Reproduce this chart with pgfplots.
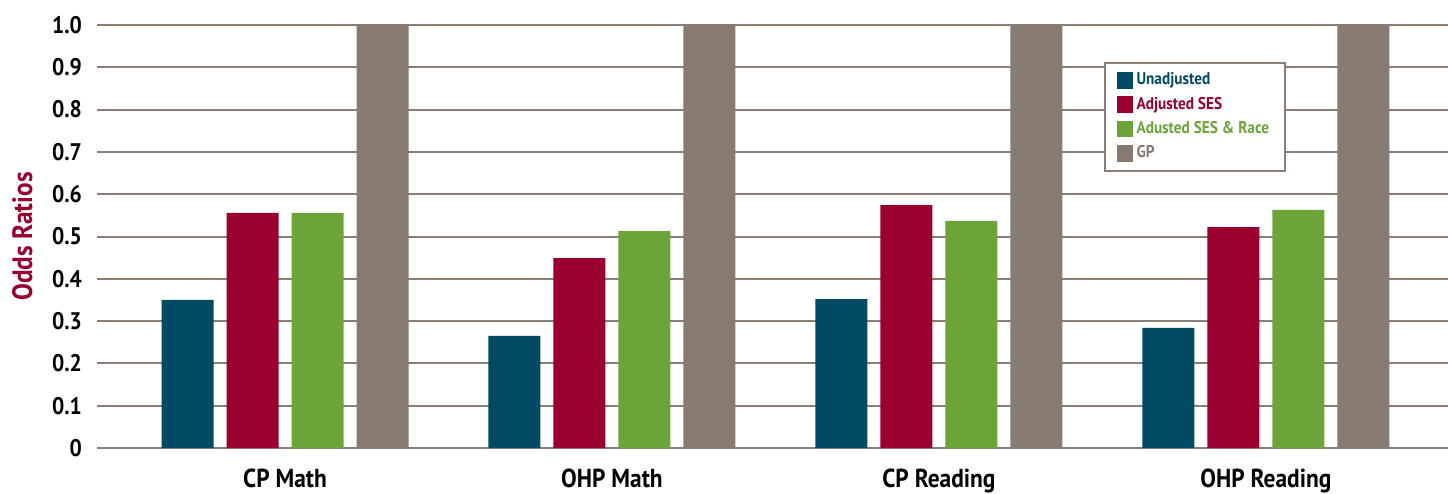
\documentclass[border=0pt]{standalone}
\usepackage{pgfplots}
\pgfplotsset{compat=1.18}
\usepackage{fontspec}
\setmainfont{PT Sans}[FakeStretch=0.9]

\definecolor{cunadj}{HTML}{004B63}
\definecolor{cses}{HTML}{990030}
\definecolor{crace}{HTML}{6CA43A}
\definecolor{cgp}{HTML}{877A70}
\definecolor{cgrid}{HTML}{8A7E76}

\begin{document}
\begin{tikzpicture}
  \begin{axis}[
      ybar,
      scale only axis,
      width=675.5pt,
      height=211.5pt,
      bar width=26pt,
      xmin=-0.575, xmax=3.557,
      ymin=0, ymax=1,
      enlargelimits=false,
      xtick={0,1,2,3},
      xticklabels={CP Math,\raisebox{-2.5pt}{OHP Math},CP Reading,\raisebox{-2.5pt}{OHP Reading}},
      ytick={0,0.1,...,1.0},
      yticklabels={0,0.1,0.2,0.3,0.4,0.5,0.6,0.7,0.8,0.9,1.0},
      major tick length=0pt,
      axis line style={draw=none},
      ymajorgrids,
      grid style={draw=cgrid, line width=1pt},
      yticklabel style={font=\fontsize{12}{13}\selectfont\bfseries, xshift=-4pt},
      xticklabel style={font=\fontsize{13}{14}\selectfont\bfseries, yshift=-7pt, anchor=north},
      ylabel={\textcolor{cses}{Odds Ratios}},
      ylabel style={font=\fontsize{14}{15}\selectfont\bfseries, yshift=3pt},
      legend style={
        at={(0.745,0.913)}, anchor=north west,
        draw=cgrid, line width=1pt, fill=white,
        font=\fontsize{8.5}{10}\selectfont\bfseries,
        inner xsep=6pt, inner ysep=3pt,
        row sep=0.6pt,
        cells={anchor=west},
      },
      legend image code/.code={\fill[#1, draw=none] (0pt,-4.2pt) rectangle (8pt,4.2pt);},
    ]

    % Unadjusted
    \addplot[fill=cunadj, draw=none, bar shift=-48.75pt] coordinates {
      (0,0.350) (1,0.265) (2,0.352) (3,0.284)
    };
    % Adjusted SES
    \addplot[fill=cses, draw=none, bar shift=-16.25pt] coordinates {
      (0,0.556) (1,0.449) (2,0.574) (3,0.522)
    };
    % Adusted SES & Race
    \addplot[fill=crace, draw=none, bar shift=16.25pt] coordinates {
      (0,0.556) (1,0.513) (2,0.537) (3,0.563)
    };
    % GP
    \addplot[fill=cgp, draw=none, bar shift=48.75pt] coordinates {
      (0,1.0) (1,1.0) (2,1.0) (3,1.0)
    };

    \legend{\textcolor{cunadj}{Unadjusted},
            \textcolor{cses}{Adjusted SES},
            \textcolor{crace}{Adusted SES \& Race},
            \textcolor{cgp}{GP}}

    \coordinate (bl) at (rel axis cs:0,0);
    \coordinate (tr) at (rel axis cs:1,1);
  \end{axis}
  \pgfresetboundingbox
  \path ([xshift=-48.5pt,yshift=-22.5pt]bl) rectangle ([yshift=12.5pt]tr);
\end{tikzpicture}
\end{document}
